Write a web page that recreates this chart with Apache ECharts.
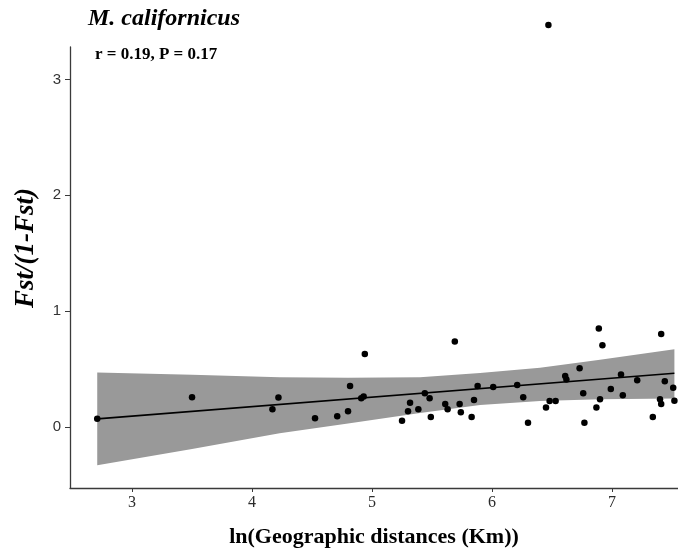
<!DOCTYPE html>
<html>
<head>
<meta charset="utf-8">
<script src="https://cdn.jsdelivr.net/npm/echarts@6/dist/echarts.min.js"></script>
<style>html,body{margin:0;padding:0;background:#fff;}#c{width:678px;height:552px;}</style>
</head>
<body>
<div id="c"></div>
<script>
// Scatter points: ln(distance) and Fst/(1-Fst)
var pointX = [2.71, 3.50, 4.17, 4.22, 4.525, 4.71, 4.80, 4.817, 4.91, 4.93, 4.94, 5.25, 5.30, 5.317, 5.386, 5.44, 5.48, 5.49, 5.61, 5.63, 5.69, 5.73, 5.74, 5.83, 5.85, 5.88, 6.01, 6.21, 6.26, 6.30, 6.45, 6.47, 6.48, 6.53, 6.61, 6.62, 6.73, 6.76, 6.77, 6.87, 6.89, 6.90, 6.92, 6.99, 7.075, 7.09, 7.21, 7.34, 7.40, 7.41, 7.41, 7.44, 7.51, 7.52];
var pointY = [0.07, 0.256, 0.153, 0.255, 0.075, 0.092, 0.135, 0.354, 0.248, 0.262, 0.63, 0.054, 0.135, 0.21, 0.153, 0.29, 0.248, 0.086, 0.199, 0.153, 0.737, 0.199, 0.127, 0.086, 0.233, 0.354, 0.345, 0.363, 0.256, 0.037, 0.167, 3.47, 0.225, 0.225, 0.44, 0.41, 0.507, 0.29, 0.037, 0.167, 0.849, 0.239, 0.705, 0.328, 0.452, 0.274, 0.403, 0.086, 0.239, 0.199, 0.803, 0.394, 0.339, 0.227];
// Regression line end points
var fitX = [2.71, 7.52];
var fitY = [0.07, 0.463];
// Confidence band
var bandX = [2.71, 3.5, 4.23, 4.8, 5.4, 5.9, 6.4, 6.9, 7.52];
var bandUpper = [0.47, 0.45, 0.43, 0.425, 0.43, 0.465, 0.51, 0.58, 0.67];
var bandLower = [-0.33, -0.19, -0.055, 0.03, 0.12, 0.19, 0.225, 0.24, 0.245];
// Tick labels
var xTicks = [3, 4, 5, 6, 7];
var yTicks = [0, 1, 2, 3];

var chart = echarts.init(document.getElementById('c'), null, {renderer: 'canvas'});

var scatterData = pointX.map(function (x, i) { return [x, pointY[i]]; });
var fitData = fitX.map(function (x, i) { return [x, fitY[i]]; });
var bandData = bandX.map(function (x, i) { return [x, bandLower[i], bandUpper[i]]; });

var option = {
  animation: false,
  backgroundColor: '#ffffff',
  grid: {left: 70, right: 0, top: 47, bottom: 64, containLabel: false},
  xAxis: {
    type: 'value', min: 2.483, max: 7.55,
    splitLine: {show: false},
    axisLine: {show: true, onZero: false, lineStyle: {color: '#3a3a3a', width: 1.3}},
    axisTick: {show: true, customValues: xTicks, length: 4, lineStyle: {color: '#3a3a3a'}},
    axisLabel: {customValues: xTicks, fontFamily: 'Liberation Serif', fontSize: 16, color: '#2b2b2b', margin: 7}
  },
  yAxis: {
    type: 'value', min: -0.527, max: 3.28,
    splitLine: {show: false},
    axisLine: {show: true, onZero: false, lineStyle: {color: '#3a3a3a', width: 1.3}},
    axisTick: {show: true, customValues: yTicks, length: 5, lineStyle: {color: '#3a3a3a'}},
    axisLabel: {customValues: yTicks, fontFamily: 'Liberation Sans', fontSize: 15, color: '#333333', margin: 9}
  },
  series: [
    {
      type: 'custom',
      data: bandData,
      encode: {x: 0, y: [1, 2]},
      clip: false,
      z: 1,
      renderItem: function (params, api) {
        if (params.dataIndex !== 0) return null;
        var pts = [];
        var i;
        for (i = 0; i < bandData.length; i++) pts.push(api.coord([bandData[i][0], bandData[i][2]]));
        for (i = bandData.length - 1; i >= 0; i--) pts.push(api.coord([bandData[i][0], bandData[i][1]]));
        return {type: 'polygon', shape: {points: pts}, style: {fill: '#999999', stroke: null}};
      }
    },
    {
      type: 'line', data: fitData, symbol: 'none', z: 3,
      lineStyle: {color: '#000000', width: 1.6}
    },
    {
      type: 'scatter', data: scatterData, symbol: 'circle', symbolSize: 6.5, clip: false, z: 4,
      itemStyle: {color: '#000000', opacity: 1}
    }
  ],
  graphic: [
    {type: 'text', x: 88, y: 19, style: {text: 'M. californicus', font: 'italic bold 24px "Liberation Serif"', fill: '#000', align: 'left', verticalAlign: 'middle'}},
    {type: 'text', x: 95, y: 55, style: {text: 'r = 0.19, P = 0.17', font: 'bold 17px "Liberation Serif"', fill: '#000', align: 'left', verticalAlign: 'middle'}},
    {type: 'text', x: 374, y: 537, style: {text: 'ln(Geographic distances (Km))', font: 'bold 22px "Liberation Serif"', fill: '#000', align: 'center', verticalAlign: 'middle'}},
    {type: 'text', x: 26, y: 248, rotation: Math.PI / 2, style: {text: 'Fst/(1-Fst)', font: 'italic bold 27px "Liberation Serif"', fill: '#000', align: 'center', verticalAlign: 'middle'}}
  ]
};
chart.setOption(option);
</script>
</body>
</html>
